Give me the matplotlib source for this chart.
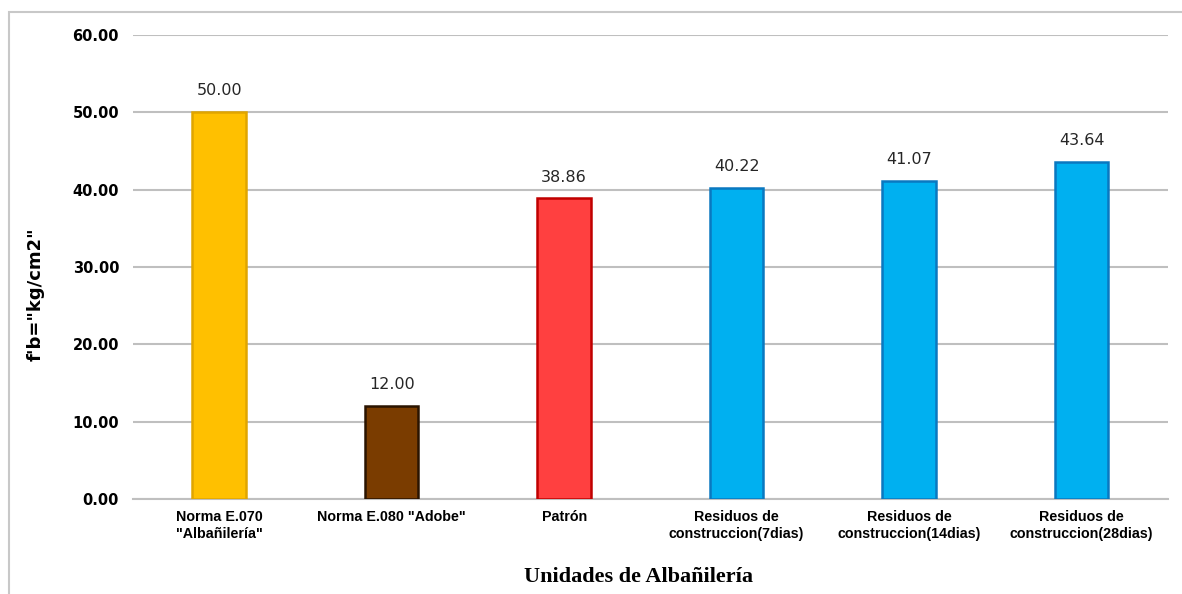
import matplotlib.pyplot as plt
import numpy as np
from matplotlib.patches import Rectangle

# Resistencia a compresion por unidad
categorias = ['Norma E.070\n"Albañilería"', 'Norma E.080 "Adobe"', 'Patrón',
              'Residuos de\nconstruccion(7dias)', 'Residuos de\nconstruccion(14dias)',
              'Residuos de\nconstruccion(28dias)']
valores = [50.00, 12.00, 38.86, 40.22, 41.07, 43.64]
colores = ['#FFC000', '#7A3C00', '#FF4040', '#00B0F0', '#00B0F0', '#00B0F0']
bordes = ['#E0A500', '#2A1400', '#C00000', '#0A78C0', '#0A78C0', '#0A78C0']

fig = plt.figure(figsize=(11.82, 5.94), dpi=100)
ax = fig.add_axes([0.1125, 0.16, 0.8755, 0.781])

# marco exterior del grafico
fig.patches.append(Rectangle((9 / 1182, -0.1), 1.2, 0.1 + 1 - 12 / 594,
                             transform=fig.transFigure, fill=False,
                             edgecolor='#C8C8C8', linewidth=1.5))

x = np.arange(len(valores))
ax.bar(x, valores, width=0.31, color=colores, edgecolor=bordes, linewidth=1.8, zorder=3)

for xi, v in zip(x, valores):
    ax.text(xi, v + 1.8, f'{v:.2f}', ha='center', va='bottom', fontsize=11.5,
            family='DejaVu Sans', color='#262626')

ax.set_ylim(0, 60)
ax.set_xlim(-0.5, 5.5)
ax.set_yticks(np.arange(0, 61, 10))
ax.set_yticklabels([f'{t:.2f}' for t in np.arange(0, 61, 10)],
                   fontsize=10.5, fontweight='bold', family='DejaVu Sans')
ax.set_xticks(x)
ax.set_xticklabels(categorias, fontsize=10.3, fontweight='bold', family='Liberation Sans',
                   linespacing=1.25)
ax.tick_params(length=0, pad=10)
ax.tick_params(axis='x', pad=8)
ax.yaxis.grid(True, color='#BFBFBF', linewidth=1.5, zorder=0)
for s in ['top', 'right', 'left']:
    ax.spines[s].set_visible(False)
ax.spines['bottom'].set_color('#BFBFBF')
ax.spines['bottom'].set_linewidth(1.5)

fig.text(36 / 1182, 1 - 294 / 594, 'f\'b="kg/cm2"', rotation=90, ha='center', va='center',
         fontsize=13, fontweight='bold', family='DejaVu Sans')
fig.text(638 / 1182, 1 - 577 / 594, 'Unidades de Albañilería', ha='center', va='center',
         fontsize=16, fontweight='bold', family='Liberation Serif')

fig.savefig('out.png', dpi=100)
